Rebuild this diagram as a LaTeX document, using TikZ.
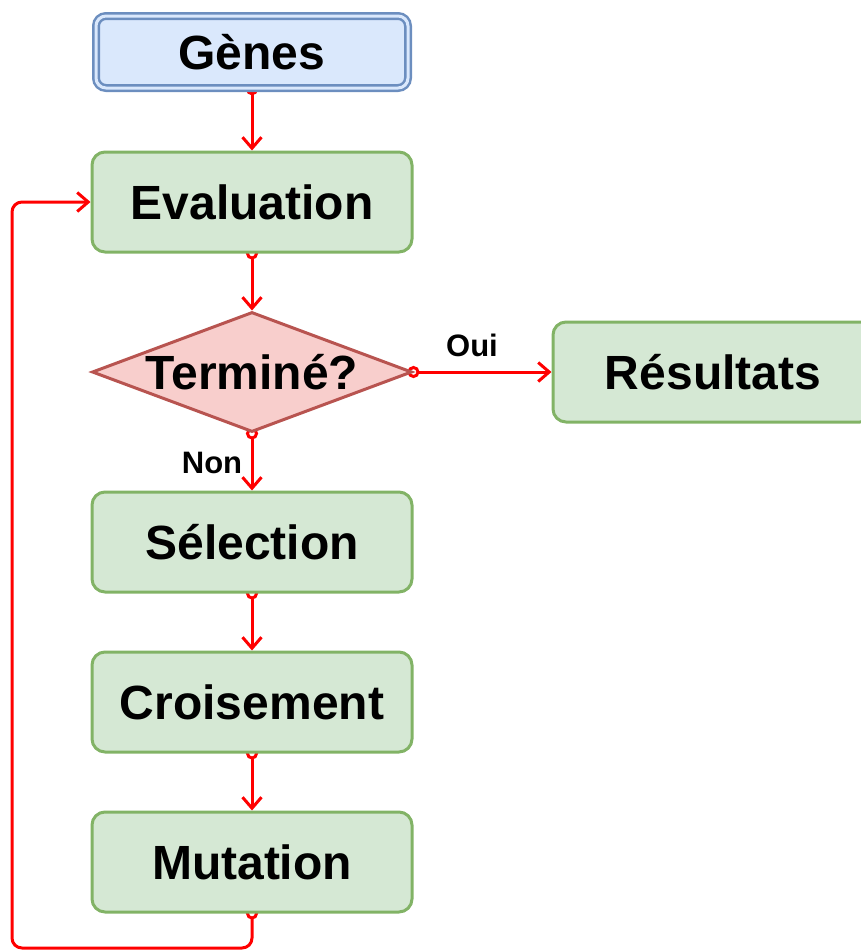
\documentclass[tikz,border=0pt]{standalone}
\usepackage{fontspec}
\setmainfont{Liberation Sans}
\usetikzlibrary{arrows.meta,shapes.geometric,backgrounds}

\definecolor{bluefill}{HTML}{DAE8FC}
\definecolor{blueline}{HTML}{6C8EBF}
\definecolor{greenfill}{HTML}{D5E8D4}
\definecolor{greenline}{HTML}{82B366}
\definecolor{redfill}{HTML}{F8CECC}
\definecolor{redline}{HTML}{B85450}
\definecolor{flowred}{HTML}{FF0000}

\begin{document}
\begin{tikzpicture}[x=1pt,y=-1pt,
  bigtext/.style={font=\bfseries\fontsize{48}{57}\selectfont},
  lbl/.style={font=\bfseries\fontsize{31}{37}\selectfont, inner sep=0pt},
  process/.style={bigtext, draw=greenline, fill=greenfill, line width=3pt,
    rounded corners=13pt, minimum width=320pt, minimum height=100pt, inner sep=0pt},
  startbox/.style={bigtext, draw=blueline, fill=bluefill, line width=2.5pt,
    double=bluefill, double distance=3pt, rounded corners=10pt,
    minimum width=312pt, minimum height=72pt, inner sep=0pt},
  decision/.style={diamond, draw=redline, fill=redfill, line width=3pt,
    minimum width=320pt, minimum height=120pt, inner sep=0pt},
  flow/.style={draw=flowred, line width=3pt,
    {Circle[open,length=12pt,width=12pt]}-{Straight Barb[length=11pt,width=19pt]},
    shorten <=-6pt}]

\useasboundingbox (0,0) rectangle (861,951);

% boxes of the flow chart
\node[startbox] (genes) at (252,52) {Gènes};
\node[process] (eval) at (252,202) {Evaluation};
\node[decision, label={[bigtext]center:Terminé?}] (term) at (252,372) {};
\node[process] (res) at (713,372) {Résultats};
\node[process] (sel) at (252,542) {Sélection};
\node[process] (crois) at (252,702) {Croisement};
\node[process] (mut) at (252,862) {Mutation};

% branch labels
\node[lbl] (oui) at (472,345) {Oui};
\node[lbl] (non) at (212,463) {Non};

% loop corner
\coordinate (loopcorner) at (12,948);

% connectors, behind the boxes
\begin{scope}[on background layer]
  \draw[flow] (genes.south) -- (eval.north);
  \draw[flow] (eval.south) -- (term.north);
  \draw[flow] (term.east) -- (res.west);
  \draw[flow] (term.south) -- (sel.north);
  \draw[flow] (sel.south) -- (crois.north);
  \draw[flow] (crois.south) -- (mut.north);
  \draw[flow, rounded corners=10pt] (mut.south) |- (loopcorner) |- (eval.west);
\end{scope}
\end{tikzpicture}
\end{document}
